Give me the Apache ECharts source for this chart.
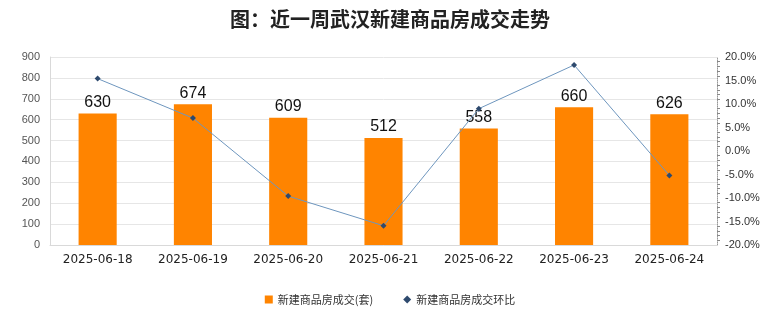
<!DOCTYPE html>
<html><head><meta charset="utf-8">
<script src="https://cdn.jsdelivr.net/npm/echarts@6/dist/echarts.min.js"></script>
<style>html,body{margin:0;padding:0;background:#fff}#c{width:780px;height:328px}</style>
</head><body><div id="c"></div>
<script>
const categories = ['2025-06-18','2025-06-19','2025-06-20','2025-06-21','2025-06-22','2025-06-23','2025-06-24'];
const deals = [630, 674, 609, 512, 558, 660, 626];
const ratio = [15.4, 7.0, -9.6, -15.9, 9.0, 18.3, -5.2];
const titleText = '图：近一周武汉新建商品房成交走势';
const barName = '新建商品房成交(套)';
const lineName = '新建商品房成交环比';

const chart = echarts.init(document.getElementById('c'));
chart.setOption({
  animation: false,
  title: { text: titleText, left: 'center', top: 4,
    textStyle: { fontSize: 20, fontWeight: 'bold', color: '#222', fontFamily: 'Noto Sans CJK SC' } },
  legend: { bottom: 18, itemGap: 30, itemWidth: 8, itemHeight: 8,
    textStyle: { fontSize: 11, color: '#333', fontFamily: 'Noto Sans CJK SC' },
    data: [{ name: barName, icon: 'rect' }, { name: lineName, icon: 'diamond' }] },
  grid: { left: 50, right: 63, top: 57, bottom: 83 },
  xAxis: { type: 'category', data: categories,
    axisLine: { lineStyle: { color: '#d9d9d9' } }, axisTick: { show: false },
    axisLabel: { color: '#222', fontSize: 12, margin: 9, fontFamily: 'DejaVu Sans' } },
  yAxis: [
    { type: 'value', min: 0, max: 900, interval: 100,
      axisLine: { show: true, lineStyle: { color: '#d9d9d9' } },
      axisLabel: { color: '#555', fontSize: 11, margin: 10 },
      splitLine: { lineStyle: { color: '#e6e6e6' } } },
    { type: 'value', min: -20, max: 20, interval: 5, position: 'right',
      axisLine: { show: true, lineStyle: { color: '#999', type: 'dotted' } },
      axisTick: { show: false },
      minorTick: { show: true, splitNumber: 5, length: 3, lineStyle: { color: '#888' } },
      axisLabel: { color: '#333', fontSize: 11, margin: 8, formatter: v => v.toFixed(1) + '%' },
      splitLine: { show: false } }
  ],
  series: [
    { name: barName, type: 'bar', data: deals, barWidth: '40%',
      itemStyle: { color: '#FF8400' },
      label: { show: true, position: 'top', color: '#111', fontSize: 16, distance: 3 } },
    { name: lineName, type: 'line', yAxisIndex: 1, data: ratio,
      symbol: 'diamond', symbolSize: 6,
      lineStyle: { color: '#6E96BE', width: 1 },
      itemStyle: { color: '#2E4A6E' } }
  ]
});
</script></body></html>
